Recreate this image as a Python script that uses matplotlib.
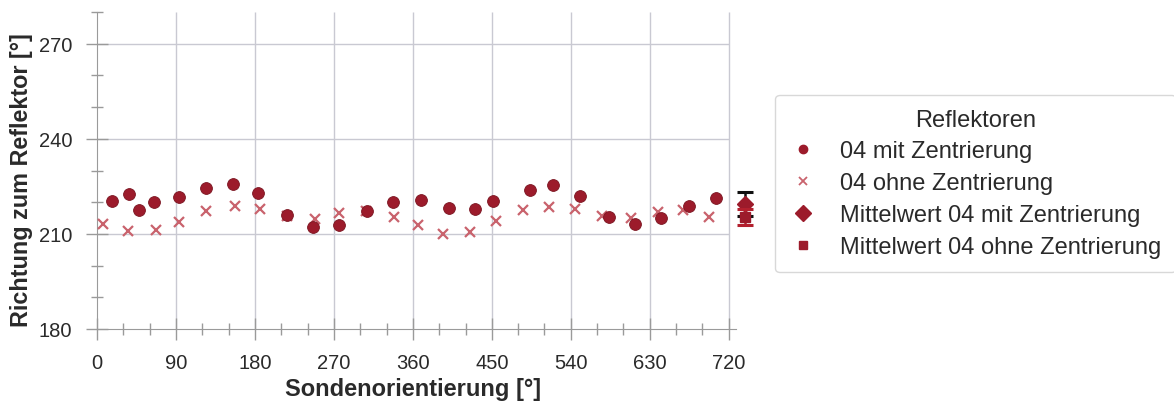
import matplotlib
matplotlib.use("Agg")
import matplotlib.pyplot as plt
from matplotlib.lines import Line2D
from matplotlib.ticker import FixedLocator

plt.rcParams['font.family'] = ['Liberation Sans', 'DejaVu Sans']

# Reflector 04, measured with centring
orient_mit = [17, 37, 48, 65, 94, 124, 155, 184, 216, 246, 276, 308, 337,
              369, 401, 431, 451, 493, 520, 550, 583, 613, 643, 675, 706]
richtung_mit = [220.3, 222.5, 217.6, 220.1, 221.7, 224.4, 225.7, 222.9, 216.0,
                212.1, 212.9, 217.2, 220.0, 220.8, 218.2, 217.7, 220.5, 224.0,
                225.3, 221.9, 215.3, 213.2, 215.0, 218.9, 221.3]

# Reflector 04, measured without centring
orient_ohne = [7, 35, 67, 94, 124, 157, 186, 216, 249, 276, 307, 339, 366,
               394, 425, 455, 485, 515, 545, 575, 609, 639, 668, 698]
richtung_ohne = [213.2, 210.9, 211.3, 213.7, 217.3, 218.7, 217.9, 215.8, 214.7,
                 216.5, 217.2, 215.2, 212.9, 210.0, 210.5, 214.2, 217.4, 218.6,
                 217.9, 215.5, 215.1, 216.9, 217.4, 215.3]

# Mean values with standard deviation
mean_pos = 739
mean_mit, sd_mit = 219.4, 3.8
mean_ohne, sd_ohne = 215.3, 2.6

x_labels = [0, 90, 180, 270, 360, 450, 540, 630, 720]
y_labels = [180, 210, 240, 270]

dark_red = '#9c1b2b'
rose = '#c9636d'
grid_col = '#c9c9d2'
axis_col = '#9a9a9a'
text_col = '#2a2a2a'

fig = plt.figure(figsize=(11.74, 4.06), dpi=100)
ax = fig.add_axes([97 / 1174, 76 / 406, 680 / 1174, 317 / 406])
ax.set_xlim(0, 775)
ax.set_ylim(180, 280)

# grid restricted to the measured orientation range
ax.vlines(x_labels[1:], 180, 280, color=grid_col, lw=1.0, zorder=1)
ax.hlines(y_labels[1:], 0, 720, color=grid_col, lw=1.0, zorder=1)

for side in ('top', 'right'):
    ax.spines[side].set_visible(False)
ax.spines['left'].set_color(axis_col)
ax.spines['bottom'].set_color(axis_col)
ax.spines['left'].set_bounds(180, 280)
ax.spines['bottom'].set_bounds(0, 728)

ax.xaxis.set_major_locator(FixedLocator(x_labels))
ax.xaxis.set_minor_locator(FixedLocator(range(0, 721, 30)))
ax.yaxis.set_major_locator(FixedLocator(y_labels))
ax.yaxis.set_minor_locator(FixedLocator(range(180, 281, 10)))
ax.tick_params(axis='both', which='major', direction='inout', length=16,
               width=1.0, color=axis_col, labelsize=14.5, labelcolor=text_col)
ax.tick_params(axis='both', which='minor', direction='inout', length=8,
               width=1.0, color=axis_col)
ax.tick_params(axis='x', which='major', pad=9)
ax.tick_params(axis='y', which='major', pad=10)

ax.plot(orient_ohne, richtung_ohne, ls='none', marker='x', ms=6.5, mew=1.6,
        color=rose, zorder=3)
ax.plot(orient_mit, richtung_mit, ls='none', marker='o', ms=8.5,
        color=dark_red, mec='#7a1420', mew=0.6, zorder=4)

ax.errorbar([mean_pos], [mean_mit], yerr=[sd_mit], fmt='D', ms=8,
            color=dark_red, ecolor='#111111', elinewidth=1.8, capsize=6,
            capthick=2.2, zorder=5)
ax.errorbar([mean_pos], [mean_ohne], yerr=[sd_ohne], fmt='s', ms=6.5,
            color=dark_red, ecolor='#b3202e', elinewidth=1.8, capsize=6,
            capthick=2.2, zorder=6)

ax.text(360, -0.188, 'Sondenorientierung [°]', transform=ax.get_xaxis_transform(),
        ha='center', va='center', fontsize=17, fontweight='bold', color=text_col)
fig.text(22 / 1174, 1 - 180 / 406, 'Richtung zum Reflektor [°]', rotation=90,
         ha='center', va='center', fontsize=16.8, fontweight='bold', color=text_col)

handles = [
    Line2D([], [], ls='none', marker='o', ms=6, color=dark_red),
    Line2D([], [], ls='none', marker='x', ms=5.5, mew=1.3, color=rose),
    Line2D([], [], ls='none', marker='D', ms=8, color=dark_red),
    Line2D([], [], ls='none', marker='s', ms=6, color=dark_red),
]
labels = ['04 mit Zentrierung', '04 ohne Zentrierung',
          'Mittelwert 04 mit Zentrierung', 'Mittelwert 04 ohne Zentrierung']
leg = fig.legend(handles, labels, title='Reflektoren', loc='center',
                 bbox_to_anchor=(975.5 / 1174, 1 - 184.5 / 406),
                 fontsize=17, title_fontsize=17, frameon=True, fancybox=True,
                 borderpad=0.6, handlelength=1.2, handletextpad=0.97,
                 labelspacing=0.42)
leg._legend_box.sep = 7
leg.get_frame().set_edgecolor('#cfcfcf')
leg.get_frame().set_linewidth(1.0)
for t in leg.get_texts():
    t.set_color(text_col)
leg.get_title().set_color(text_col)

fig.savefig('out.png', dpi=100)
